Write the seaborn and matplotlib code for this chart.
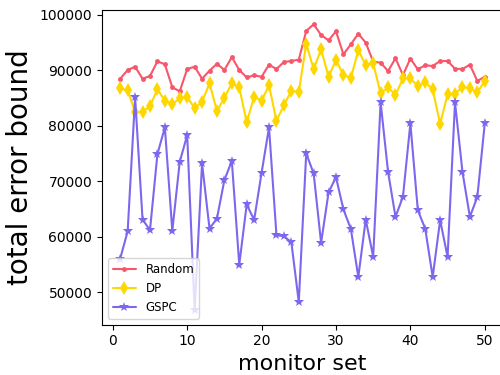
import numpy as np
import pandas as pd
import matplotlib
matplotlib.use("Agg")
import matplotlib.pyplot as plt
import seaborn as sns

# monitor set index
monitor_set = list(range(1, 51))

random_bound = [88500, 90070, 90670, 88500, 88990, 91640, 91100, 86950, 86230, 90250,
                90670, 88500, 89950, 91210, 90070, 92400, 90070, 88750, 89110, 88860,
                91030, 90250, 91520, 91700, 91940, 97110, 98320, 96390, 95430, 97050,
                92900, 94710, 96630, 95000, 91580, 91400, 89890, 92180, 89170, 92120,
                90200, 90920, 90800, 91700, 91700, 90310, 90250, 91030, 88090, 88860]

dp_bound = [86770, 86410, 82490, 82490, 83570, 86590, 84530, 83940, 84960, 85260,
            83150, 84350, 87670, 82670, 85080, 87670, 86950, 80630, 85260, 84530,
            87310, 80920, 83700, 86340, 86050, 94820, 90250, 93800, 88860, 91880,
            89170, 88630, 93630, 90970, 91280, 85870, 86950, 85560, 88570, 88570,
            87180, 87850, 86590, 80320, 85690, 85690, 87060, 86770, 86050, 88090]

gspc_bound = [56080, 61010, 85140, 63120, 61190, 74910, 79730, 61070, 73520, 78340,
              46750, 73230, 61490, 63300, 70220, 73700, 54990, 65830, 63050, 71530,
              79730, 60290, 60110, 59030, 48250, 75030, 71420, 58900, 67990, 70760,
              64930, 61430, 52760, 63120, 56380, 84240, 71710, 63600, 67210, 80450,
              64800, 61430, 52760, 63000, 56380, 84240, 71710, 63600, 67210, 80450]

sns.set_style("ticks")
plt.rcParams.update({
    'text.color': 'black',
    'axes.labelcolor': 'black',
    'xtick.color': 'black',
    'ytick.color': 'black',
})

fig = plt.figure(figsize=(5, 3.75), dpi=100)
ax = fig.add_axes([0.204, 0.1344, 0.802, 0.839])

sns.lineplot(x=monitor_set, y=random_bound, ax=ax, color='#f8566a', marker='.',
             markersize=7, markeredgewidth=0, linewidth=1.5, label='Random')
sns.lineplot(x=monitor_set, y=dp_bound, ax=ax, color='#ffd700', marker='d',
             markersize=7, markeredgewidth=0, linewidth=1.5, label='DP')
sns.lineplot(x=monitor_set, y=gspc_bound, ax=ax, color='#7b68ee', marker='*',
             markersize=7, markeredgewidth=0, linewidth=1.5, label='GSPC')

for s in ax.spines.values():
    s.set_visible(True)
    s.set_color('black')
ax.tick_params(labelsize=10)
ax.set_xticks([0, 10, 20, 30, 40, 50])
ax.set_yticks([50000, 60000, 70000, 80000, 90000, 100000])
ax.set_xlabel('monitor set', fontsize=16)
ax.set_ylabel('total error bound', fontsize=20)
ax.legend(loc='lower left', fontsize=8.5)

fig.savefig("out.png", dpi=100)
